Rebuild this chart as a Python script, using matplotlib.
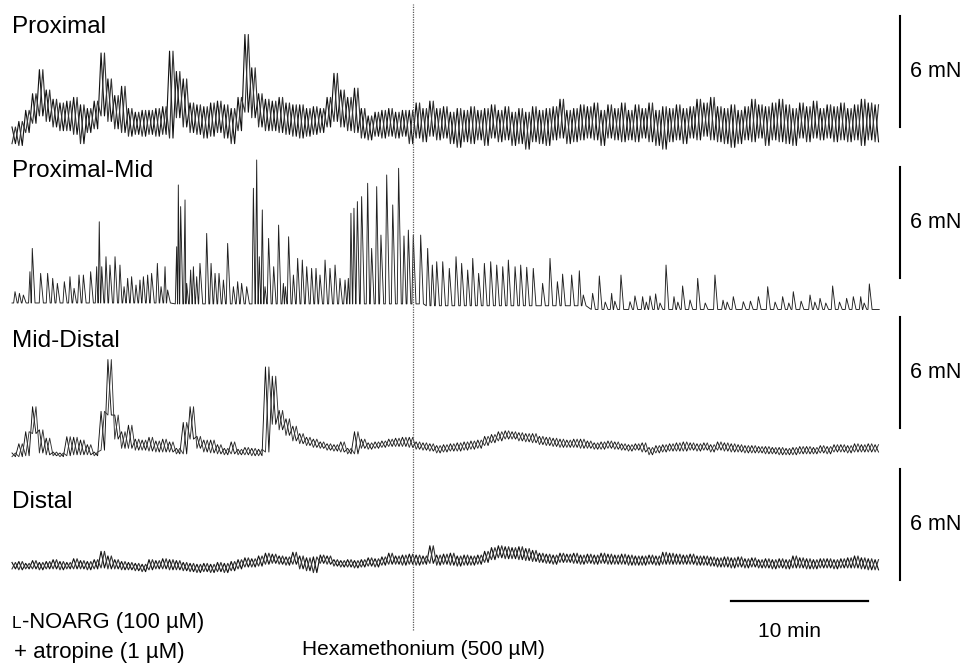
import numpy as np
import matplotlib.pyplot as plt

plt.rcParams['font.family'] = ['Liberation Sans', 'DejaVu Sans']

# =============================================================================
# Datos (fuerza en mN, tiempo en min)
# trazos ruidosos: maximo y minimo por intervalo de 0.5 min
# =============================================================================
paso = 0.5
hexa_t = 29.3   # entrada de hexametonio (min)

prox_hi = [0.0, 0.3, 0.9, 1.8, 3.1, 2.0, 1.5, 1.3, 1.4, 1.6, 1.2, 1.0, 1.4, 4.0, 2.6, 1.7,
           2.2, 1.0, 0.8, 0.9, 0.9, 1.0, 1.1, 4.1, 3.0, 2.6, 1.3, 1.2, 1.1, 1.3, 1.4, 1.2,
           1.0, 1.6, 5.0, 3.2, 1.8, 1.5, 1.4, 1.6, 1.3, 1.2, 1.2, 1.0, 1.1, 1.0, 1.6, 2.9,
           2.0, 1.6, 2.1, 1.0, 0.6, 0.8, 0.9, 1.0, 0.8, 0.9, 0.9, 1.3, 1.0, 1.4, 1.0, 1.1,
           0.8, 1.0, 0.9, 1.1, 0.9, 1.0, 1.2, 0.9, 1.1, 0.8, 1.0, 0.8, 1.1, 0.9, 1.0, 1.1,
           1.5, 0.9, 1.0, 1.2, 1.1, 1.3, 0.9, 1.2, 1.0, 1.3, 0.9, 1.2, 1.0, 1.3, 0.9, 1.1,
           1.0, 1.2, 1.0, 1.1, 1.5, 1.3, 1.6, 1.1, 1.0, 1.2, 0.9, 1.1, 1.5, 1.2, 1.1, 1.3,
           1.5, 1.2, 1.0, 1.3, 1.1, 1.4, 1.0, 1.2, 1.1, 1.3, 1.0, 1.2, 1.5, 1.3, 1.2]
prox_lo = [-0.9, -1.0, -0.3, 0.2, 0.6, 0.3, 0.0, -0.2, -0.2, -0.4, -0.9, -0.3, -0.1, 0.6, 0.3, -0.1,
           -0.3, -0.5, -0.4, -0.5, -0.4, -0.5, -0.4, -0.6, 0.5, 0.0, -0.3, -0.4, -0.6, -0.5, -0.3, -0.6,
           -0.9, -0.2, 0.8, 0.5, 0.0, -0.2, -0.2, -0.3, -0.4, -0.5, -0.6, -0.5, -0.4, -0.3, 0.0, 0.3,
           0.0, -0.2, -0.3, -0.6, -0.7, -0.5, -0.6, -0.5, -0.6, -0.5, -0.9, -0.6, -0.8, -0.5, -0.7, -0.6,
           -0.9, -1.1, -0.8, -0.9, -0.7, -1.0, -0.6, -0.8, -0.7, -1.0, -0.9, -1.2, -0.8, -0.9, -1.0, -0.7,
           -0.6, -0.9, -0.8, -0.7, -0.6, -0.7, -1.0, -0.6, -0.7, -0.8, -0.7, -0.8, -0.6, -0.8, -1.0, -1.2,
           -0.8, -0.7, -0.9, -0.6, -0.7, -0.5, -0.7, -0.8, -0.9, -1.1, -0.9, -0.7, -0.8, -0.6, -1.0, -0.7,
           -0.8, -0.9, -1.0, -0.6, -0.8, -0.6, -0.7, -0.6, -0.8, -0.7, -0.8, -0.7, -1.0, -0.7, -0.8]

# proximal-medio: contracciones fasicas (tiempo del pico, fuerza del pico)
pm_t = [0.22, 0.54, 0.83, 1.31, 1.48, 2.09, 2.60, 2.97, 3.31, 3.82, 4.23, 4.53, 4.89, 5.21, 5.74,
        6.18, 6.37, 6.55, 6.86, 7.15, 7.52, 7.88, 8.18, 8.44, 8.73, 9.05, 9.34, 9.59, 9.90, 10.19,
        10.61, 10.88, 11.17, 11.36, 12.02, 12.14, 12.31, 12.63, 12.75, 13.04, 13.24, 13.48, 13.72,
        14.21, 14.53, 14.82, 15.11, 15.43, 15.74, 16.16, 16.47, 16.76, 17.13, 17.62, 17.86, 18.05,
        18.27, 18.47, 18.73, 19.10, 19.46, 19.81, 19.95, 20.19, 20.54, 20.85, 21.19, 21.51, 21.87,
        22.19, 22.48, 22.85, 23.21, 23.58, 23.94, 24.31, 24.55, 24.74, 24.96, 25.21, 25.52, 25.96,
        26.25, 26.62, 26.93, 27.35, 27.79, 28.22, 28.61, 28.93, 29.29, 29.83, 30.34, 30.68, 31.00,
        31.44, 31.92, 32.41, 32.82, 33.26, 33.63, 34.06, 34.48, 34.94, 35.38, 35.82, 36.23, 36.72,
        37.13, 37.57, 38.05, 38.73, 39.27, 39.81, 40.19, 40.85, 41.41, 41.70, 42.38, 42.87, 43.30,
        43.77, 44.00, 44.45, 45.11, 45.47, 46.03, 46.30, 46.57, 46.98, 47.30, 47.74, 48.32, 48.60,
        48.95, 49.49, 50.05, 50.60, 51.31, 51.90, 52.20, 52.65, 53.38, 53.90, 54.48, 55.16, 55.70,
        56.25, 56.70, 57.03, 57.60, 58.25, 58.60, 58.98, 59.40, 59.90, 60.40, 60.92, 61.41, 61.95,
        62.20, 62.58]
pm_pico = [-0.74, -0.83, -0.92, 0.34, 1.60, 0.25, 0.25, -0.02, -0.29, -0.20, 0.07, -0.56, 0.16, 0.16, 0.34,
           0.61, 3.04, 0.61, 1.15, 0.70, 1.15, 0.70, -0.47, -0.02, 0.07, -0.38, -0.11, 0.07, 0.16, 0.25,
           0.79, -0.47, 0.61, -0.65, 1.69, 5.03, 3.86, 4.22, -0.29, 0.43, 0.61, 0.07, 0.79,
           2.41, 0.79, 0.25, 0.25, -0.11, 1.87, -0.47, -0.20, -0.29, -0.47, 4.85, 6.38, 1.15,
           3.68, -0.47, 2.14, 0.61, 2.86, -0.29, -0.47, 2.23, 0.16, 1.06, 0.97, 0.61, 0.52,
           0.52, 0.16, 0.97, 0.52, 0.70, -0.02, -0.11, -0.02, 3.50, 3.77, 4.13, 4.40, 5.12,
           1.60, 4.94, 2.32, 5.57, 3.95, 5.93, 2.27, 2.59, 2.32, 2.32, 1.60, 0.70, 0.88,
           0.88, 0.52, 1.15, 0.79, 0.43, 1.06, 0.25, 0.79, 0.88, 0.70, 0.61, 0.97, 0.61,
           0.70, 0.58, 0.52, -0.29, 1.06, -0.20, 0.21, 0.16, 0.39, -0.92, -0.83, 0.11, -1.30,
           -0.83, -1.25, 0.16, -1.28, -0.97, -1.01, -1.30, -0.97, -0.86, -1.35, 0.70, -1.01, -1.30,
           -0.43, -1.19, -0.02, -1.35, 0.16, -1.20, -1.30, -1.01, -1.28, -1.25, -1.01, -0.47, -1.30,
           -1.01, -1.35, -0.74, -1.25, -0.92, -1.30, -1.10, -1.35, -0.43, -1.30, -1.10, -1.01, -1.01,
           -1.35, -0.32]
pm_base_t = [12.0, 30.0, 42.0]          # cambios de linea de base
pm_base = [-1.35, -1.4, -1.5, -1.7]
pm_fin = 63.3

md_hi = [-1.35, -0.85, -0.2, 1.15, -0.1, -0.55, -1.3, -1.35, -0.47, -0.5, -0.65, -0.9, -1.3, 0.9,
         3.7, 0.7, -0.2, 0.15, -0.6, -0.65, -0.5, -0.7, -0.6, -0.75, -1.1, 0.3, 1.15, -0.45, -0.65,
         -0.65, -0.9, -1.1, -0.75, -1.15, -1.05, -1.1, -1.15, 3.3, 2.8, 0.95, 0.5, 0.1, -0.3, -0.5,
         -0.6, -0.75, -0.85, -0.9, -0.75, -1.1, -0.2, -0.6, -0.8, -0.75, -0.7, -0.6, -0.55, -0.5,
         -0.5, -0.75, -0.8, -0.85, -0.95, -0.9, -0.85, -0.8, -0.75, -0.7, -0.65, -0.45, -0.35, -0.2,
         -0.15, -0.2, -0.25, -0.3, -0.3, -0.45, -0.5, -0.55, -0.6, -0.65, -0.6, -0.6, -0.7, -0.8,
         -0.75, -0.7, -0.75, -0.85, -0.9, -0.85, -0.8, -1.05, -0.95, -0.9, -0.85, -0.8, -0.75, -0.8,
         -0.85, -0.8, -0.9, -0.75, -0.8, -0.85, -0.9, -0.95, -0.95, -1.0, -1.0, -1.05, -1.05, -1.1,
         -1.05, -1.0, -1.0, -1.05, -0.95, -1.0, -0.9, -0.9, -0.95, -0.85, -0.9, -0.85, -0.9]
md_lo = [-1.55, -1.55, -1.5, -0.3, -1.35, -1.45, -1.5, -1.55, -1.5, -1.45, -1.45, -1.45, -1.5, -1.2,
         0.7, -0.6, -1.1, -1.1, -1.2, -1.2, -1.25, -1.3, -1.3, -1.3, -1.4, -1.4, -0.6, -1.1, -1.3,
         -1.35, -1.4, -1.45, -1.4, -1.45, -1.45, -1.5, -1.5, -1.3, 0.2, -0.1, -0.4, -0.7, -0.85, -0.95,
         -1.05, -1.1, -1.2, -1.25, -1.3, -1.4, -1.4, -1.1, -1.15, -1.1, -1.05, -1.0, -1.0, -1.0,
         -1.05, -1.15, -1.2, -1.25, -1.35, -1.3, -1.25, -1.25, -1.2, -1.15, -1.1, -0.95, -0.8, -0.7,
         -0.6, -0.6, -0.7, -0.75, -0.8, -0.9, -0.95, -1.0, -1.05, -1.05, -1.05, -1.1, -1.1, -1.15,
         -1.15, -1.1, -1.15, -1.2, -1.25, -1.2, -1.3, -1.45, -1.35, -1.3, -1.25, -1.25, -1.25, -1.2,
         -1.25, -1.2, -1.3, -1.2, -1.25, -1.3, -1.3, -1.35, -1.35, -1.35, -1.4, -1.4, -1.45, -1.45,
         -1.45, -1.4, -1.4, -1.4, -1.35, -1.4, -1.3, -1.3, -1.35, -1.3, -1.3, -1.3, -1.3]

ds_hi = [0.95, 1.0, 0.9, 1.05, 0.95, 1.0, 1.1, 1.0, 0.95, 1.15, 1.05, 1.0, 1.1, 1.55, 1.3, 1.1,
         1.0, 0.95, 0.9, 0.85, 1.1, 1.05, 1.15, 1.1, 1.05, 0.95, 0.9, 0.85, 0.9, 0.85, 0.95, 0.9,
         1.0, 1.1, 1.2, 1.15, 1.3, 1.45, 1.4, 1.3, 1.25, 1.5, 1.3, 1.2, 1.25, 1.35, 1.3, 1.1,
         1.05, 1.1, 1.05, 1.1, 1.2, 1.15, 1.25, 1.45, 1.3, 1.35, 1.4, 1.35, 1.3, 1.85, 1.35, 1.4,
         1.45, 1.3, 1.35, 1.3, 1.35, 1.55, 1.75, 1.85, 1.8, 1.75, 1.8, 1.7, 1.6, 1.45, 1.4, 1.35,
         1.45, 1.4, 1.45, 1.35, 1.4, 1.35, 1.45, 1.4, 1.35, 1.4, 1.35, 1.3, 1.3, 1.35, 1.3, 1.5,
         1.45, 1.4, 1.35, 1.4, 1.3, 1.3, 1.25, 1.2, 1.25, 1.2, 1.25, 1.15, 1.2, 1.1, 1.15, 1.1,
         1.15, 1.1, 1.3, 1.2, 1.15, 1.1, 1.15, 1.15, 1.1, 1.15, 1.2, 1.3, 1.2, 1.15, 1.1]
ds_lo = [0.6, 0.55, 0.6, 0.6, 0.55, 0.6, 0.6, 0.55, 0.6, 0.6, 0.6, 0.55, 0.6, 0.65, 0.6, 0.6,
         0.55, 0.55, 0.5, 0.45, 0.55, 0.6, 0.6, 0.55, 0.55, 0.5, 0.45, 0.4, 0.45, 0.4, 0.45, 0.4,
         0.5, 0.6, 0.7, 0.7, 0.75, 0.85, 0.9, 0.85, 0.8, 0.85, 0.6, 0.5, 0.4, 0.9, 0.85, 0.75,
         0.7, 0.7, 0.65, 0.7, 0.75, 0.7, 0.8, 0.85, 0.85, 0.8, 0.85, 0.8, 0.85, 0.9, 0.8, 0.85,
         0.8, 0.75, 0.8, 0.8, 0.85, 0.95, 1.1, 1.2, 1.15, 1.15, 1.1, 1.05, 1.0, 0.95, 0.9, 0.85,
         0.95, 0.95, 0.9, 0.85, 0.9, 0.85, 0.9, 0.85, 0.85, 0.85, 0.8, 0.8, 0.8, 0.85, 0.8, 0.85,
         0.85, 0.85, 0.85, 0.85, 0.8, 0.8, 0.75, 0.7, 0.7, 0.65, 0.7, 0.65, 0.7, 0.65, 0.65, 0.6,
         0.65, 0.6, 0.65, 0.65, 0.6, 0.6, 0.65, 0.65, 0.6, 0.65, 0.65, 0.65, 0.6, 0.55, 0.55]

nombres = ['Proximal', 'Proximal-Mid', 'Mid-Distal', 'Distal']

# =============================================================================
# Geometria de la figura (pixeles de la imagen original)
# =============================================================================
W, H = 964, 664
X0 = 12            # px del t = 0
PX_MIN = 13.7      # px por minuto
PX_MN = 18.5       # px por mN
fondo_barra = [127, 278, 428, 580]   # px del 0 de cada barra de 6 mN
YLO, YHI = -2.5, 7.5
xlim = (-X0 / PX_MIN, (W - X0) / PX_MIN)
t_barra = (900 - X0) / PX_MIN

def fx(px):
    return px / W

def fy(py):
    return 1 - py / H

def zigzag(a, b):
    t = np.arange(len(a)) * paso
    x = np.empty(2 * len(a)); y = np.empty(2 * len(a))
    x[0::2] = t; x[1::2] = t + paso / 2
    y[0::2] = a; y[1::2] = b
    return x, y

def banda(ax, hi, lo, lw=0.55):
    # maximo/minimo de cada intervalo, dibujado en las dos fases
    ax.plot(*zigzag(hi, lo), color='#111111', lw=lw)
    ax.plot(*zigzag(lo, hi), color='#333333', lw=lw)

def espigas(tt, pico, base_t, base_v, fin):
    tt = np.asarray(tt); pico = np.asarray(pico)
    base = np.asarray(base_v)[np.searchsorted(base_t, tt)]
    dt = np.diff(tt)
    sube = np.minimum(0.10, 0.4 * np.r_[1.0, dt])
    baja = np.minimum(0.20, 0.5 * np.r_[dt, 1.0])
    x = [0.0]; y = [base[0]]
    for t, p, b, s, d in zip(tt, pico, base, sube, baja):
        x += [t - s, t, t + d]
        y += [b, p, b]
    x.append(fin); y.append(base[-1])
    return x, y

fig = plt.figure(figsize=(W / 100, H / 100), dpi=100)

ejes = []
for b in fondo_barra:
    bot = b - YLO * PX_MN
    ax = fig.add_axes([0, fy(bot), 1, (YHI - YLO) * PX_MN / H])
    ax.set_xlim(xlim)
    ax.set_ylim(YLO, YHI)
    ax.axis('off')
    ejes.append(ax)

banda(ejes[0], prox_hi, prox_lo, lw=0.8)
ejes[1].plot(*espigas(pm_t, pm_pico, pm_base_t, pm_base, pm_fin), color='#202020', lw=0.65)
banda(ejes[2], md_hi, md_lo, lw=0.65)
banda(ejes[3], ds_hi, ds_lo, lw=0.8)

# barras de calibracion
for ax in ejes:
    ax.plot([t_barra, t_barra], [0, 6], color='k', lw=1.5, clip_on=False)
    ax.text(t_barra + 0.75, 3, '6 mN', fontsize=15.5, va='center', ha='left')
ejes[3].plot([52.5, 62.5], [-1.15, -1.15], color='k', lw=1.6, clip_on=False)

# linea punteada del hexametonio
ov = fig.add_axes([0, 0, 1, 1])
ov.set_xlim(xlim)
ov.set_ylim(0, 1)
ov.axis('off')
ov.axvline(hexa_t, ymin=fy(630), ymax=fy(4), color='0.35', lw=0.9, ls=(0, (1, 1)))

# titulos
for nom, yb in zip(nombres, [33, 177, 347, 508]):
    fig.text(fx(12), fy(yb), nom, fontsize=17.5, va='baseline', ha='left')

# textos de abajo
t1 = fig.text(fx(12), fy(628), 'L', fontsize=12.5, va='baseline', ha='left')
r = fig.canvas.get_renderer()
bb = t1.get_window_extent(r)
fig.text(bb.x1 / fig.bbox.width, fy(628), '-NOARG (100 µM)', fontsize=15.8, va='baseline', ha='left')
fig.text(fx(14), fy(658), '+ atropine (1 µM)', fontsize=16, va='baseline', ha='left')
fig.text(fx(302), fy(655), 'Hexamethonium (500 µM)', fontsize=15, va='baseline', ha='left')
fig.text(fx(790), fy(637), '10 min', fontsize=15, va='baseline', ha='center')

fig.savefig('out.png', dpi=100)
